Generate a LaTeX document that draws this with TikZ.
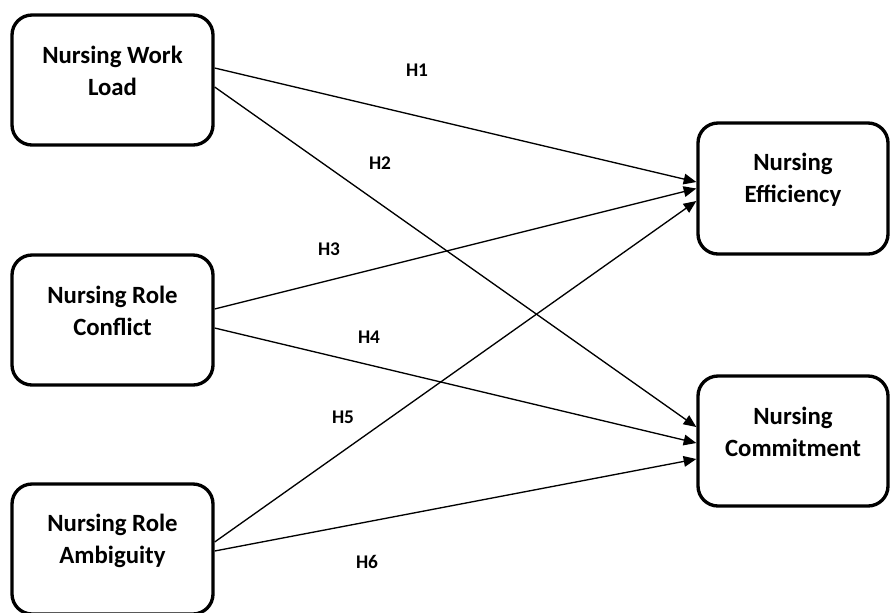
\documentclass[tikz,border=0pt]{standalone}
\usepackage{fontspec}
\setmainfont{Carlito}
\usetikzlibrary{calc,arrows.meta}
\tikzstyle{factor node} = [draw,line width=2.5pt,rounded corners=15pt,minimum width=150.75pt,minimum height=97.5pt]
\tikzstyle{factor text} = [align=center,font=\bfseries\fontsize{18.6}{24}\selectfont]
\tikzstyle{hyp label}   = [font=\bfseries\fontsize{14.5}{16}\selectfont]
\tikzstyle{hyp arrow}   = [-{Triangle[length=9.5pt,width=8pt]},line width=1pt]

\begin{document}
\begin{tikzpicture}[x=0.75pt,y=-0.75pt]
\useasboundingbox (0,0) rectangle (890,612);

    % Predictors
    \node(wl)[factor node] at (112.5,80) {};
    \node(rc)[factor node] at (112.5,320) {};
    \node(ra)[factor node] at (112.5,549) {};
    % Outcomes
    \node(eff)[factor node, minimum width=142.5pt, minimum height=98.25pt] at (793,188.5) {};
    \node(com)[factor node, minimum width=142.5pt] at (793,441) {};

    \node(wl-text)[factor text] at ($(wl)+(0,-9)$) {Nursing Work\\Load};
    \node(rc-text)[factor text] at ($(rc)+(0,-9)$) {Nursing Role\\Conflict};
    \node(ra-text)[factor text] at ($(ra)+(0,-8)$) {Nursing Role\\Ambiguity};
    \node(eff-text)[factor text] at ($(eff)+(0,-9)$) {Nursing\\Efficiency};
    \node(com-text)[factor text] at ($(com)+(0,-9)$) {Nursing\\Commitment};

    % Hypothesised paths
    \draw[hyp arrow] ($(wl.east)+(0,-12)$) -- ($(eff.west)+(0,-6.5)$);
    \draw[hyp arrow] ($(wl.east)+(0,7)$)   -- ($(com.west)+(0,-14)$);
    \draw[hyp arrow] ($(rc.east)+(0,-11)$) -- ($(eff.west)+(0,0)$);
    \draw[hyp arrow] ($(rc.east)+(0,8)$)   -- ($(com.west)+(0,2)$);
    \draw[hyp arrow] ($(ra.east)+(0,-7)$)  -- ($(eff.west)+(0,12.5)$);
    \draw[hyp arrow] ($(ra.east)+(0,2)$)   -- ($(com.west)+(0,18)$);

    \node(h1)[hyp label] at (417,70) {H1};
    \node(h2)[hyp label] at (380,163) {H2};
    \node(h3)[hyp label] at (329,249) {H3};
    \node(h4)[hyp label] at (369,337) {H4};
    \node(h5)[hyp label] at (343,417) {H5};
    \node(h6)[hyp label] at (367,562) {H6};

\end{tikzpicture}
\end{document}
